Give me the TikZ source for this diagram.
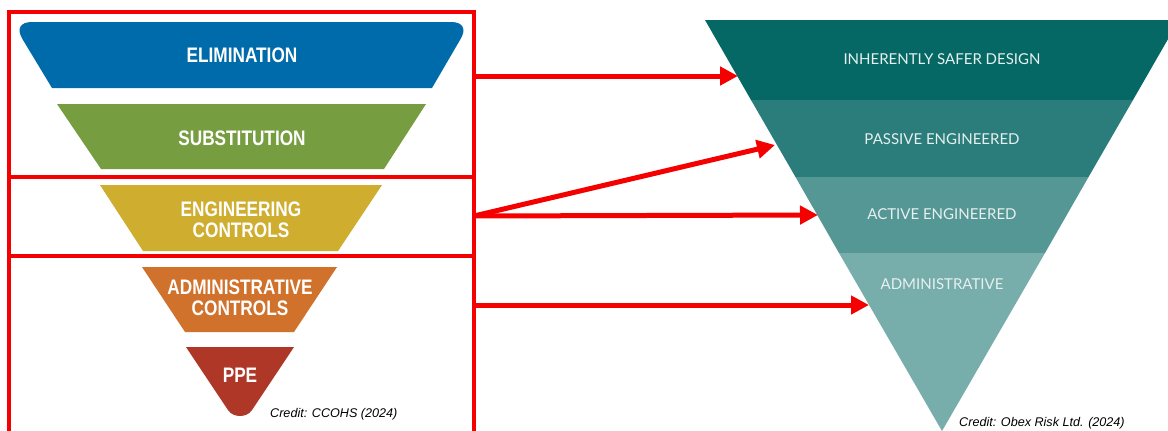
\documentclass[tikz,border=0pt]{standalone}
\usepackage{fontspec}
\setmainfont{Liberation Sans}
\newfontfamily\condfont[FakeStretch=0.82]{Liberation Sans}
\newfontfamily\latofont{Lato}
\usetikzlibrary{arrows.meta}

\definecolor{elimblue}{HTML}{006BAA}
\definecolor{subgreen}{HTML}{769D40}
\definecolor{engmustard}{HTML}{CEAD2F}
\definecolor{admorange}{HTML}{D0712C}
\definecolor{ppered}{HTML}{AE3727}
\definecolor{bandA}{HTML}{066865}
\definecolor{bandB}{HTML}{2B7D7B}
\definecolor{bandC}{HTML}{559795}
\definecolor{bandD}{HTML}{77ADAB}
\definecolor{bandtext}{HTML}{E6F0EF}
\definecolor{markred}{HTML}{F50000}

\tikzset{
  tierlabel/.style={text=white, align=center, inner sep=0pt,
    font=\condfont\bfseries\fontsize{21}{20.5}\selectfont},
  bandlabel/.style={text=bandtext, inner sep=0pt,
    font=\latofont\fontsize{15}{17}\selectfont},
  credit/.style={anchor=west, inner sep=0pt,
    font=\itshape\fontsize{12.6}{14}\selectfont},
  groupbox/.style={draw=markred, line width=3.5pt},
  maparrow/.style={draw=markred, line width=5pt,
    -{Triangle[length=18pt,width=18pt]}},
}

\begin{document}
\begin{tikzpicture}[x=1pt,y=-1pt]
\useasboundingbox (0,0) rectangle (1168,431);
\clip (0,0) rectangle (1168,431);
\fill[white] (0,0) rectangle (1168,431);

% ---------- left hierarchy ----------
\fill[elimblue] (52,88) -- (23,40) .. controls (16,29) and (20,22) .. (32,22)
  -- (451,22) .. controls (463,22) and (467,29) .. (460,40) -- (432,88) -- cycle;
\fill[subgreen] (57,104) -- (426,104) -- (384,169) -- (101,169) -- cycle;
\fill[engmustard] (100,185) -- (382,185) -- (338,251) -- (143,251) -- cycle;
\fill[admorange] (142,267) -- (337,267) -- (294,332) -- (185,332) -- cycle;
\fill[ppered] (186,347) -- (294,347) -- (252,410)
  .. controls (247,418) and (233,418) .. (228,410) -- cycle;

\node[tierlabel] (elim) at (242,55) {ELIMINATION};
\node[tierlabel] (subst) at (242,138) {SUBSTITUTION};
\node[tierlabel] (eng) at (241,220) {ENGINEERING\\CONTROLS};
\node[tierlabel] (adm) at (240,298) {ADMINISTRATIVE\\CONTROLS};
\node[tierlabel] (ppe) at (240,375) {PPE};
\node[credit] (credL) at (270,414) {Credit: CCOHS (2024)};

% grouping boxes
\draw[groupbox] (9,12) rectangle (474,177);
\draw[groupbox] (9,177) rectangle (474,256);
\draw[groupbox] (9,256) rectangle (474,445);

% ---------- right hierarchy ----------
\coordinate (apex) at (942,431);
\fill[bandA] (705,20) -- (1179,20) -- (1133,100) -- (751,100) -- cycle;
\fill[bandB] (751,100) -- (1133,100) -- (1088.5,177) -- (795.5,177) -- cycle;
\fill[bandC] (795.5,177) -- (1088.5,177) -- (1045,253) -- (839,253) -- cycle;
\fill[bandD] (839,253) -- (1045,253) -- (apex) -- cycle;

\node[bandlabel] (isd) at (942,59) {INHERENTLY SAFER DESIGN};
\node[bandlabel] (pas) at (942,139) {PASSIVE ENGINEERED};
\node[bandlabel] (act) at (942,214) {ACTIVE ENGINEERED};
\node[bandlabel] (admR) at (942,284) {ADMINISTRATIVE};
\node[credit] (credR) at (959,423) {Credit: Obex Risk Ltd. (2024)};

% ---------- mapping arrows ----------
\coordinate (g1) at (474,76);
\coordinate (g2) at (474,216);
\coordinate (g3) at (474,305);
\coordinate (t1) at (738,76);
\coordinate (t2) at (775,145);
\coordinate (t3) at (818,215);
\coordinate (t4) at (869,305);

\draw[maparrow] (g1) -- (t1);
\draw[maparrow] (g2) -- (t2);
\draw[maparrow] (g2) -- (t3);
\draw[maparrow] (g3) -- (t4);
\end{tikzpicture}
\end{document}
